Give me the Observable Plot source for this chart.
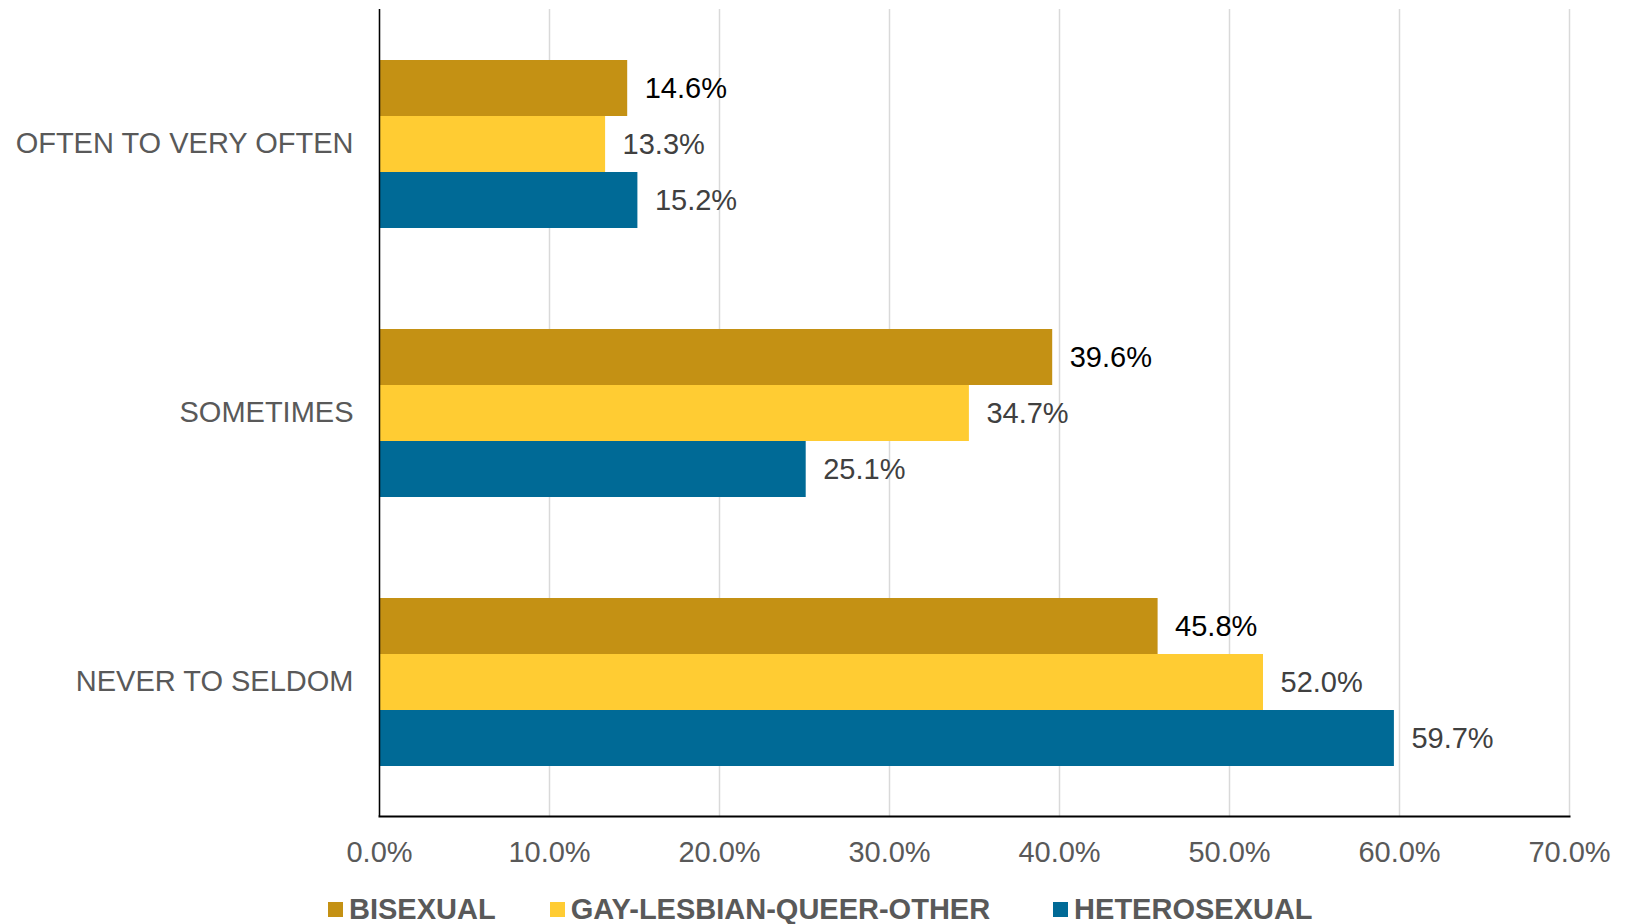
<!DOCTYPE html>
<html>
<head>
<meta charset="utf-8">
<script src="https://cdn.jsdelivr.net/npm/d3@7"></script>
<script src="https://cdn.jsdelivr.net/npm/@observablehq/plot@0.6"></script>
<style>
  body { margin: 0; background: #fff; font-family: "Liberation Sans", Arial, sans-serif; }
  #legend { display: flex; align-items: center; margin-top: 25px; padding-left: 328px; font-weight: bold; font-size: 29px; color: #595959; line-height: 29px; }
  #legend .item { display: flex; align-items: center; }
  #legend .sw { width: 15px; height: 15px; margin-right: 6px; }
</style>
</head>
<body>
<div id="chart"></div>
<div id="legend"></div>
<script>
const categories = ["OFTEN TO VERY OFTEN", "SOMETIMES", "NEVER TO SELDOM"];
const series = ["BISEXUAL", "GAY-LESBIAN-QUEER-OTHER", "HETEROSEXUAL"];
const bisexual = [14.6, 39.6, 45.8];
const gayLesbianQueerOther = [13.3, 34.7, 52.0];
const heterosexual = [15.2, 25.1, 59.7];
const colors = ["#C49114", "#FFCC33", "#006A96"];
const labelColors = ["#000000", "#404040", "#404040"];
const xTicks = [0, 10, 20, 30, 40, 50, 60, 70];

const seriesValues = [bisexual, gayLesbianQueerOther, heterosexual];
const rows = [];
categories.forEach((c, i) => series.forEach((s, j) => rows.push({category: c, series: s, value: seriesValues[j][i]})));

const chart = Plot.plot({
  width: 1629,
  height: 870,
  marginLeft: 379,
  marginRight: 60,
  marginTop: 8,
  marginBottom: 54,
  style: {fontFamily: "'Liberation Sans', Arial, sans-serif", fontSize: "29px", color: "#000"},
  facet: {data: rows, y: "category"},
  fy: {domain: categories, paddingInner: 0, paddingOuter: 0, label: null},
  y: {domain: series, paddingInner: 0, paddingOuter: 0.86, axis: null},
  x: {domain: [0, 70], axis: null},
  color: {domain: series, range: colors},
  marks: [
    Plot.ruleX(xTicks, {stroke: "#D9D9D9", strokeWidth: 1.5}),
    Plot.barX(rows, {x: "value", y: "series", fill: "series"}),
    Plot.ruleX([0], {stroke: "#000", strokeWidth: 1.5}),
    Plot.frame({anchor: "bottom", facetAnchor: "bottom", stroke: "#000", strokeWidth: 2}),
    Plot.text(rows, {x: "value", y: "series", text: d => d.value.toFixed(1) + "%", textAnchor: "start", dx: 17, fontSize: 29,
      fill: d => labelColors[series.indexOf(d.series)]}),
    Plot.axisFy({anchor: "left", tickSize: 0, tickPadding: 26, fontSize: 29, fill: "#595959", label: null}),
    Plot.axisX({anchor: "bottom", ticks: xTicks, tickSize: 0, tickPadding: 25, fontSize: 29, fill: "#595959",
      tickFormat: d => d.toFixed(1) + "%", label: null})
  ]
});
document.getElementById("chart").appendChild(chart);

const legend = document.getElementById("legend");
const gaps = [54, 63, 0];
series.forEach((s, i) => {
  const item = document.createElement("div");
  item.className = "item";
  item.style.marginRight = gaps[i] + "px";
  const sw = document.createElement("span");
  sw.className = "sw";
  sw.style.background = colors[i];
  const t = document.createElement("span");
  t.textContent = s;
  item.appendChild(sw); item.appendChild(t);
  legend.appendChild(item);
});
</script>
</body>
</html>
